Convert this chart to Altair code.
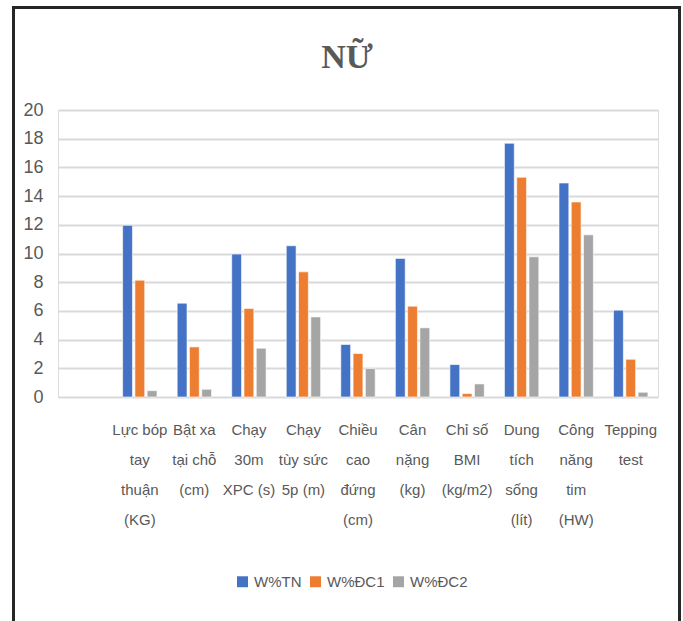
import altair as alt
import pandas as pd

categories = [
    "",
    "Lực bóp|tay|thuận|(KG)",
    "Bật xa|tại chỗ|(cm)",
    "Chạy|30m|XPC (s)",
    "Chạy|tùy sức|5p (m)",
    "Chiều|cao|đứng|(cm)",
    "Cân|nặng|(kg)",
    "Chỉ số|BMI|(kg/m2)",
    "Dung|tích|sống|(lít)",
    "Công|năng|tim|(HW)",
    "Tepping|test",
]
series = ["W%TN", "W%ĐC1", "W%ĐC2"]
w_tn = [11.96, 6.54, 9.96, 10.54, 3.66, 9.66, 2.26, 17.68, 14.91, 6.05]
w_dc1 = [8.14, 3.49, 6.17, 8.72, 3.03, 6.33, 0.24, 15.31, 13.59, 2.63]
w_dc2 = [0.44, 0.54, 3.40, 5.58, 1.98, 4.82, 0.91, 9.77, 11.30, 0.33]
colors = ["#4472C4", "#ED7D31", "#A5A5A5"]

rows = []
for name, vals in zip(series, [w_tn, w_dc1, w_dc2]):
    for cat, v in zip(categories[1:], vals):
        rows.append({"cat": cat, "series": name, "value": v})
df = pd.DataFrame(rows)

FONT = "Liberation Sans"

bars = alt.Chart(df).mark_bar(stroke="white", strokeWidth=0.6).encode(
    x=alt.X(
        "cat:N",
        sort=categories,
        scale=alt.Scale(domain=categories, paddingInner=0.37, paddingOuter=0.185),
        axis=alt.Axis(
            title=None,
            labelAngle=0,
            labelExpr="split(datum.label, '|')",
            labelLineHeight=30,
            labelBaseline="top",
            labelPadding=25,
            ticks=False,
            domain=False,
            grid=False,
            labelFont=FONT,
            labelFontSize=15,
            labelColor="#595959",
        ),
    ),
    xOffset=alt.XOffset(
        "series:N", sort=series, scale=alt.Scale(paddingInner=0.2, paddingOuter=0)
    ),
    y=alt.Y(
        "value:Q",
        scale=alt.Scale(domain=[0, 20]),
        axis=alt.Axis(
            title=None,
            values=list(range(0, 21, 2)),
            ticks=False,
            domain=False,
            grid=True,
            gridColor="#d9d9d9",
            gridWidth=2,
            labelPadding=15,
            labelFont=FONT,
            labelFontSize=18,
            labelColor="#595959",
        ),
    ),
    color=alt.Color(
        "series:N",
        sort=series,
        scale=alt.Scale(domain=series, range=colors),
        legend=alt.Legend(
            title=None,
            orient="none",
            direction="horizontal",
            legendX=177,
            legendY=464,
            symbolType="square",
            symbolSize=120,
            symbolStrokeWidth=0,
            labelFont=FONT,
            labelFontSize=15,
            labelColor="#595959",
            labelOffset=4,
            columnPadding=6,
        ),
    ),
)

frame = alt.Chart(pd.DataFrame({"f": [0]})).mark_rect(
    fill=None, stroke="#262626", strokeWidth=3
).encode(
    x=alt.value(-44.5),
    x2=alt.value(621.5),
    y=alt.value(-102.5),
    y2=alt.value(530),
)

chart = alt.layer(frame, bars).properties(
    width=600,
    height=287,
    title=alt.TitleParams(
        "NỮ",
        font="Liberation Serif",
        fontSize=34,
        fontWeight="bold",
        color="#595959",
        anchor="middle",
        frame="group",
        baseline="alphabetic",
        offset=0,
        dy=96,
        dx=-11,
    ),
    autosize=alt.AutoSizeParams(type="none"),
    padding={"left": 58, "top": 110, "right": 25, "bottom": 224},
).configure_view(stroke=None).configure(background="white")

chart.save("out.html", embed_options={"renderer": "svg", "actions": False})
